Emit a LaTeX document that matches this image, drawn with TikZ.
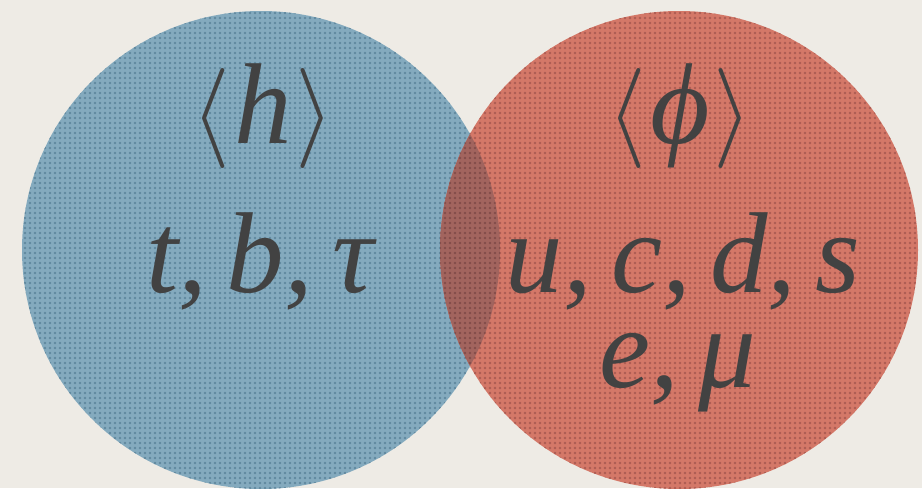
\documentclass[tikz,border=0pt]{standalone}
\usepackage{fontspec}
\setmainfont{Liberation Serif}
\usepackage{tikz}
\usetikzlibrary{patterns.meta}
\definecolor{paper}{RGB}{238,235,229}
\definecolor{higgsblue}{RGB}{132,170,190}
\definecolor{higgsdot}{RGB}{96,136,158}
\definecolor{phired}{RGB}{212,120,104}
\definecolor{phidot}{RGB}{172,92,82}
\definecolor{overlapred}{RGB}{162,100,94}
\definecolor{overlapdot}{RGB}{130,76,74}
\definecolor{inkgray}{RGB}{66,66,66}
\newcommand{\lbr}{\scalebox{10}{\fontsize{10}{12}\selectfont$\langle$}\kern4pt}
\newcommand{\rbr}{\kern4pt\scalebox{10}{\fontsize{10}{12}\selectfont$\rangle$}}
\tikzset{
  vev/.style={circle, minimum size=478pt, inner sep=0pt},
  dotted fill/.style={pattern={Dots[distance=5pt, radius=1.3pt]}, pattern color=#1},
  biglab/.style={font=\fontsize{115}{120}\selectfont\itshape, text=inkgray,
                 inner sep=0pt, anchor=base},
}
\begin{document}
\begin{tikzpicture}[x=1pt,y=-1pt]
  \fill[paper] (0,0) rectangle (922,488);
  \useasboundingbox (0,0) rectangle (922,488);

  % the two sectors
  \node[vev, fill=higgsblue] (hset) at (261,250) {};
  \node[vev, dotted fill=higgsdot] at (hset.center) {};
  \node[vev, fill=phired] (phiset) at (679,250) {};
  \node[vev, dotted fill=phidot] at (phiset.center) {};
  \begin{scope}
    \clip (hset.center) circle (239pt);
    \fill[overlapred] (phiset.center) circle (239pt);
    \fill[dotted fill=overlapdot] (phiset.center) circle (239pt);
  \end{scope}

  % labels
  \node[biglab] (hvev) at (263,143) {\color{inkgray}\lbr h\rbr};
  \node[biglab] (hferm) at (260,292) {t,\,b,\,τ};
  \node[biglab] (phivev) at (680,143) {\color{inkgray}\lbr ϕ\rbr};
  \node[biglab] (phiq) at (683,292) {u,\,c,\,d,\,s};
  \node[biglab] (philep) at (678,387) {e,\,μ};
\end{tikzpicture}
\end{document}
